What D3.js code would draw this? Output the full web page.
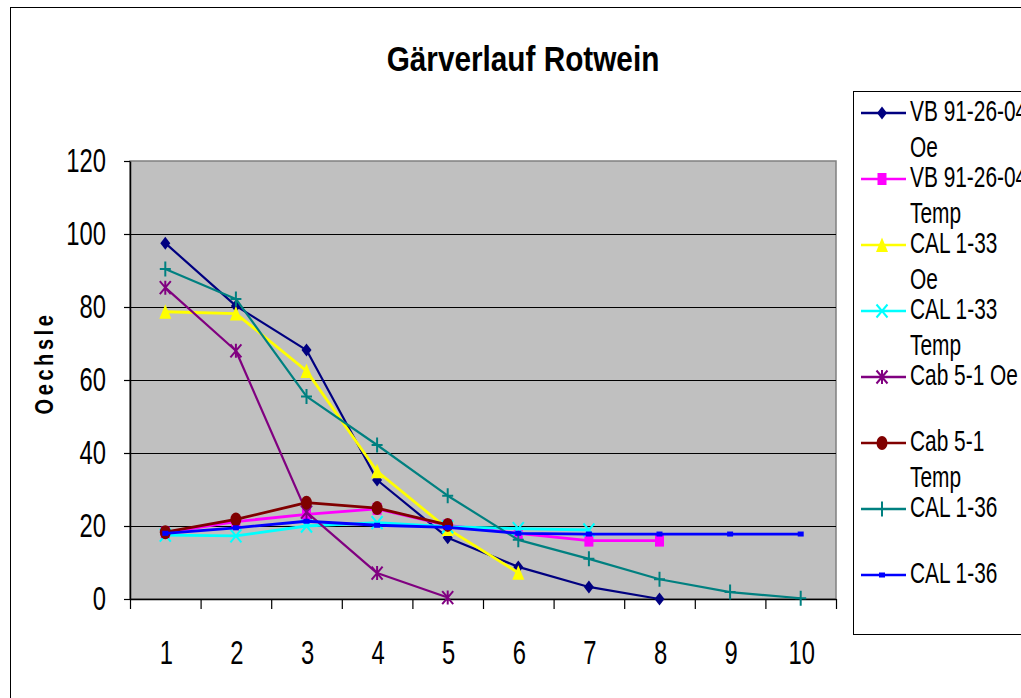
<!DOCTYPE html>
<html><head><meta charset="utf-8">
<script src="https://cdn.jsdelivr.net/npm/d3@7"></script>
<style>
html,body{margin:0;padding:0;background:#fff;overflow:hidden}
svg{display:block;font-family:"Liberation Sans",Arial,sans-serif}
</style></head>
<body>
<svg id="chart" width="1021" height="698"></svg>
<script>
const title = "Gärverlauf Rotwein";
const yTitle = "Oechsle";
const categories = ["1","2","3","4","5","6","7","8","9","10"];
const yTicks = [0,20,40,60,80,100,120];

const vbOe      = [97.5, 80.3, 68.2, 32.6, 16.8, 8.8, 3.3, 0, null, null];
const vbTemp    = [18.2, 21.2, 23.2, 24.7, 20.2, 18, 16, 16, null, null];
const cal33Oe   = [78.7, 78.2, 62.5, 35, 19.2, 7.2, null, null, null, null];
const cal33Temp = [17.5, 17.3, 20, 20.9, 19.8, 19.3, 18.9, null, null, null];
const cabOe     = [85.3, 68, 23.8, 7.1, 0.4, null, null, null, null, null];
const cabTemp   = [18.3, 21.8, 26.4, 24.9, 20.3, null, null, null, null, null];
const cal36Oe   = [90.4, 82.2, 55.5, 42.2, 28.3, 16.2, 11, 5.4, 1.9, 0.2];
const cal36Temp = [18, 19.5, 21.3, 20.2, 19.6, 18, 17.8, 17.8, 17.8, 17.8];

const seriesNames = [
  ["VB 91-26-04","Oe"], ["VB 91-26-04","Temp"], ["CAL 1-33","Oe"], ["CAL 1-33","Temp"],
  ["Cab 5-1 Oe"], ["Cab 5-1","Temp"], ["CAL 1-36"], ["CAL 1-36"]
];
const seriesValues = [vbOe, vbTemp, cal33Oe, cal33Temp, cabOe, cabTemp, cal36Oe, cal36Temp];
const seriesColors = ["#000080","#ff00ff","#ffff00","#00ffff","#800080","#800000","#008080","#0000ff"];
const seriesMarkers = ["diamond","square","triangle","x","asterisk","circle","plus","smallsquare"];

const svg = d3.select("#chart");
const L = 130, R = 836, T = 161, B = 599;

const x = d3.scaleBand().domain(categories).range([L, R]).padding(0);
const xEdge = d3.scaleLinear().domain([0, categories.length]).range([L, R]);
const y = d3.scaleLinear().domain([0, 120]).range([B, T]);

// outer border
svg.append("rect").attr("x",10.5).attr("y",7.5).attr("width",1100).attr("height",800)
  .attr("fill","#fff").attr("stroke","#000").attr("stroke-width",1);

// title
function txt(g, px, py, s, size, sx, anchor, weight, extra) {
  const t = g.append("text")
    .attr("transform", `translate(${px},${py})` + (extra||"") + ` scale(${sx},1)`)
    .attr("text-anchor", anchor).attr("font-size", size)
    .attr("font-weight", weight||"normal").attr("fill","#000").text(s);
  return t;
}
txt(svg, 523, 71, title, 35, 0.85, "middle", "bold");

// plot area
svg.append("rect").attr("x",L).attr("y",T).attr("width",R-L).attr("height",B-T)
  .attr("fill","#c0c0c0").attr("stroke","#808080").attr("stroke-width",1.5);

// gridlines
svg.append("g").selectAll("line").data(yTicks.filter(v=>v>0 && v<120)).join("line")
  .attr("x1",L).attr("x2",R).attr("y1",d=>Math.round(y(d))+0.5).attr("y2",d=>Math.round(y(d))+0.5)
  .attr("stroke","#000").attr("stroke-width",1.2);

// y axis
const yAxis = svg.append("g").attr("transform",`translate(${L},0)`)
  .call(d3.axisLeft(y).tickValues(yTicks).tickSize(6).tickSizeOuter(0).tickFormat(d3.format("d")));
yAxis.select(".domain").attr("stroke","#000").attr("stroke-width",1.5);
yAxis.selectAll(".tick line").attr("stroke","#000").attr("stroke-width",1.2);
yAxis.selectAll(".tick text").attr("font-size",34).attr("font-family","Liberation Sans, Arial")
  .attr("fill","#000").attr("x",-24/0.7).attr("dy","0.31em").attr("transform","scale(0.7,1)");

// x axis (ticks between categories)
const xAxis = svg.append("g").attr("transform",`translate(0,${B})`)
  .call(d3.axisBottom(xEdge).ticks(categories.length).tickValues(d3.range(0, categories.length+1))
    .tickSize(10).tickSizeOuter(0).tickFormat(""));
xAxis.select(".domain").attr("stroke","#000").attr("stroke-width",1.5);
xAxis.selectAll(".tick line").attr("stroke","#000").attr("stroke-width",1.2);

const xLab = svg.append("g");
categories.forEach(c => txt(xLab, x(c)+x.bandwidth()/2+1, 664, c, 34, 0.7, "middle"));

// y title
svg.append("text")
  .attr("transform","translate(53,363) rotate(-90) scale(0.8,1)")
  .attr("text-anchor","middle").attr("font-size",25).attr("font-weight","bold")
  .attr("letter-spacing",4.5).attr("fill","#000").text(yTitle);

// markers
function drawMarker(g, type, color, cx, cy) {
  const m = g.append("g").attr("transform",`translate(${cx},${cy})`);
  switch(type){
    case "diamond": m.append("path").attr("d","M0,-6.5L5,0L0,6.5L-5,0Z").attr("fill",color); break;
    case "square": m.append("rect").attr("x",-4.5).attr("y",-6).attr("width",9).attr("height",12).attr("fill",color); break;
    case "triangle": m.append("path").attr("d","M0,-7.5L6,7L-6,7Z").attr("fill",color); break;
    case "x": m.append("path").attr("d","M-5.5,-6.5L5.5,6.5M-5.5,6.5L5.5,-6.5").attr("stroke",color).attr("stroke-width",2).attr("fill","none"); break;
    case "asterisk": m.append("path").attr("d","M-5.5,-6.5L5.5,6.5M-5.5,6.5L5.5,-6.5M0,-7L0,7").attr("stroke",color).attr("stroke-width",2).attr("fill","none"); break;
    case "circle": m.append("ellipse").attr("rx",5.5).attr("ry",7).attr("fill",color); break;
    case "plus": m.append("path").attr("d","M-5.5,0L5.5,0M0,-7.5L0,7.5").attr("stroke",color).attr("stroke-width",2).attr("fill","none"); break;
    case "smallsquare": m.append("rect").attr("x",-3).attr("y",-2.5).attr("width",6).attr("height",5).attr("fill",color); break;
  }
}

const line = d3.line()
  .defined(d => d.v !== null)
  .x(d => x(d.c) + x.bandwidth()/2)
  .y(d => y(d.v));

const plot = svg.append("g");
seriesValues.forEach((vals, i) => {
  const data = categories.map((c, j) => ({c, v: vals[j]}));
  const g = plot.append("g");
  g.append("path").datum(data).attr("d", line).attr("fill","none")
    .attr("stroke", seriesColors[i]).attr("stroke-width", i===0||i===4||i===6 ? 2.2 : 2.8)
    .attr("stroke-linejoin","round");
  data.filter(d => d.v !== null).forEach(d =>
    drawMarker(g, seriesMarkers[i], seriesColors[i], x(d.c)+x.bandwidth()/2, y(d.v)));
});

// legend
const leg = svg.append("g");
leg.append("rect").attr("x",853.5).attr("y",91.5).attr("width",300).attr("height",543)
  .attr("fill","#fff").attr("stroke","#000").attr("stroke-width",1);
seriesNames.forEach((lines, i) => {
  const ly = 113 + i*66;
  leg.append("line").attr("x1",861).attr("x2",906).attr("y1",ly).attr("y2",ly)
    .attr("stroke",seriesColors[i]).attr("stroke-width",2.5);
  drawMarker(leg, seriesMarkers[i], seriesColors[i], 882, ly);
  lines.forEach((s, k) => txt(leg, 910, ly + 8 + k*36, s, 29, 0.72, "start"));
});
</script>
</body></html>
